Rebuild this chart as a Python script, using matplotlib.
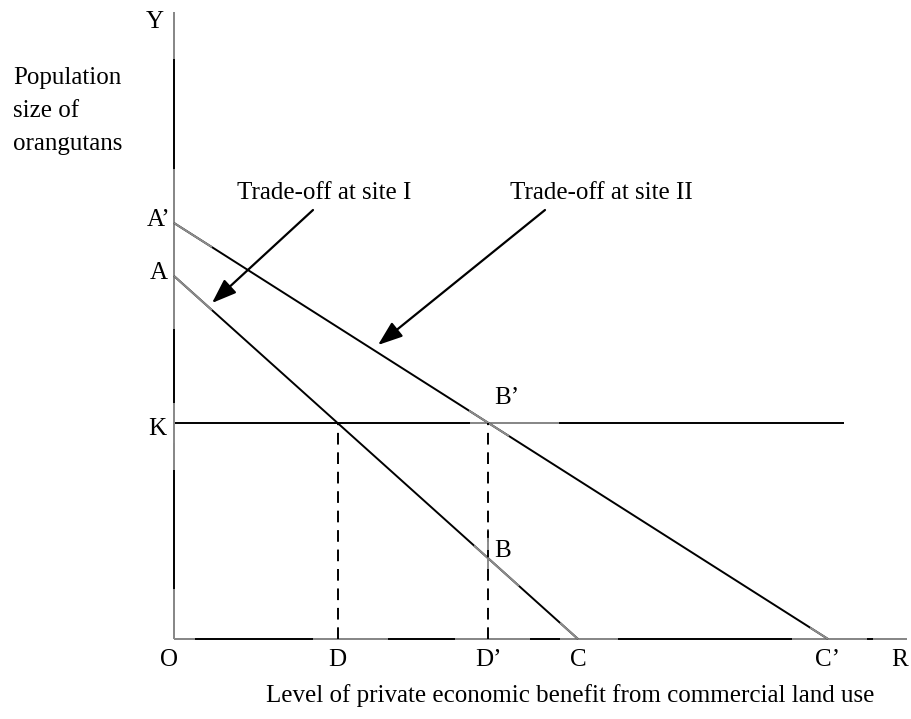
import matplotlib.pyplot as plt

plt.rcParams['font.family'] = ['Liberation Serif', 'DejaVu Serif']

# intercepts of the two trade-off lines (arbitrary units)
site_names = ['Trade-off at site I', 'Trade-off at site II']
y_intercepts = [363, 416]      # A, A'
x_intercepts = [404, 654]      # C, C'
y_labels = ['A', 'A\u2019']
x_labels = ['C', 'C\u2019']
k_level = 216                  # K, minimum viable population
x_max, y_max = 733, 627        # R, Y

# points where each line meets K (D, D') and B on line I above D'
d_vals = [c * (1 - k_level / a) for a, c in zip(y_intercepts, x_intercepts)]
b_val = y_intercepts[0] * (1 - d_vals[1] / x_intercepts[0])

fig = plt.figure(figsize=(9.12, 7.19), dpi=100)
ax = fig.add_axes([0, 0, 1, 1])
ax.set_xlim(-174, 738)
ax.set_ylim(-80, 639)
ax.axis('off')

lw = 1.4
blk = dict(color='black', lw=lw, solid_capstyle='butt')
gry = dict(color='#8c8c8c', lw=lw, solid_capstyle='butt')

# axes
ax.plot([0, 0], [0, y_max], **blk)
ax.plot([0, x_max], [0, 0], **blk)
for y0, y1 in [(580, y_max), (0, 50), (169, 234), (310, 470)]:
    ax.plot([0, 0], [y0, y1], **gry)
for x0, x1 in [(0, 21), (139, 214), (281, 356), (386, 444), (618, 693), (699, x_max)]:
    ax.plot([x0, x1], [0, 0], **gry)

# K line
ax.plot([0, 670], [k_level, k_level], **blk)
ax.plot([0, 0], [k_level - 20, k_level + 20], **gry)
ax.plot([296, 385], [k_level, k_level], **gry)

# trade-off lines
for a, c in zip(y_intercepts, x_intercepts):
    ax.plot([0, c], [a, 0], **blk)
    ax.plot([0, 38], [a, a - a / c * 38], **gry)
    ax.plot([c - 18, c], [a / c * 18, 0], **gry)
a, c = y_intercepts[0], x_intercepts[0]
ax.plot([300, 345], [a - a / c * 300, a - a / c * 345], **gry)
a, c = y_intercepts[1], x_intercepts[1]
ax.plot([295, 335], [a - a / c * 295, a - a / c * 335], **gry)

# dashed drop lines
ax.plot([d_vals[0], d_vals[0]], [0, k_level], color='black', lw=lw, ls=(0, (6, 4)))
ax.plot([d_vals[1], d_vals[1]], [0, k_level], color='black', lw=lw, ls=(0, (6, 4)))
ax.plot([d_vals[1], d_vals[1]], [70, 110], color='#8c8c8c', lw=lw, ls=(0, (6, 4)))

fs = 18
# axis letter labels
ax.text(-19, y_max - 10, 'Y', fontsize=fs, ha='center', va='center')
for lab, a in zip(y_labels, y_intercepts):
    ax.text(-15, a + 3, lab, fontsize=fs, ha='center', va='center')
ax.text(-17, k_level - 6, 'K', fontsize=fs, ha='center', va='center')
ax.text(-5, -21, 'O', fontsize=fs, ha='center', va='center')
ax.text(d_vals[0], -21, 'D', fontsize=fs, ha='center', va='center')
ax.text(d_vals[1], -21, 'D\u2019', fontsize=fs, ha='center', va='center')
for lab, c in zip(x_labels, x_intercepts):
    ax.text(c, -21, lab, fontsize=fs, ha='center', va='center')
ax.text(x_max - 7, -21, 'R', fontsize=fs, ha='center', va='center')
ax.text(d_vals[1] + 6, k_level + 25, 'B\u2019', fontsize=fs, ha='left', va='center')
ax.text(d_vals[1] + 6, b_val + 8, 'B', fontsize=fs, ha='left', va='center')

ax.text(-161, 528, 'Population\nsize of\norangutans', fontsize=fs,
        ha='left', va='center', linespacing=1.65)
ax.text(396, -57, 'Level of private economic benefit from commercial land use',
        fontsize=fs, ha='center', va='center')

# arrows with captions
text_pos = [(63, 446), (336, 446)]
tails = [(139, 429), (371, 429)]
heads = [(38, 336), (204, 294)]
for name, tp, t, h in zip(site_names, text_pos, tails, heads):
    ax.text(tp[0], tp[1], name, fontsize=fs, ha='left', va='center')
    ax.annotate('', xy=h, xytext=t,
                arrowprops=dict(arrowstyle='-|>,head_length=1.5,head_width=0.55',
                                color='black', lw=1.6, shrinkA=0, shrinkB=0))

fig.savefig('out.png', dpi=100)
